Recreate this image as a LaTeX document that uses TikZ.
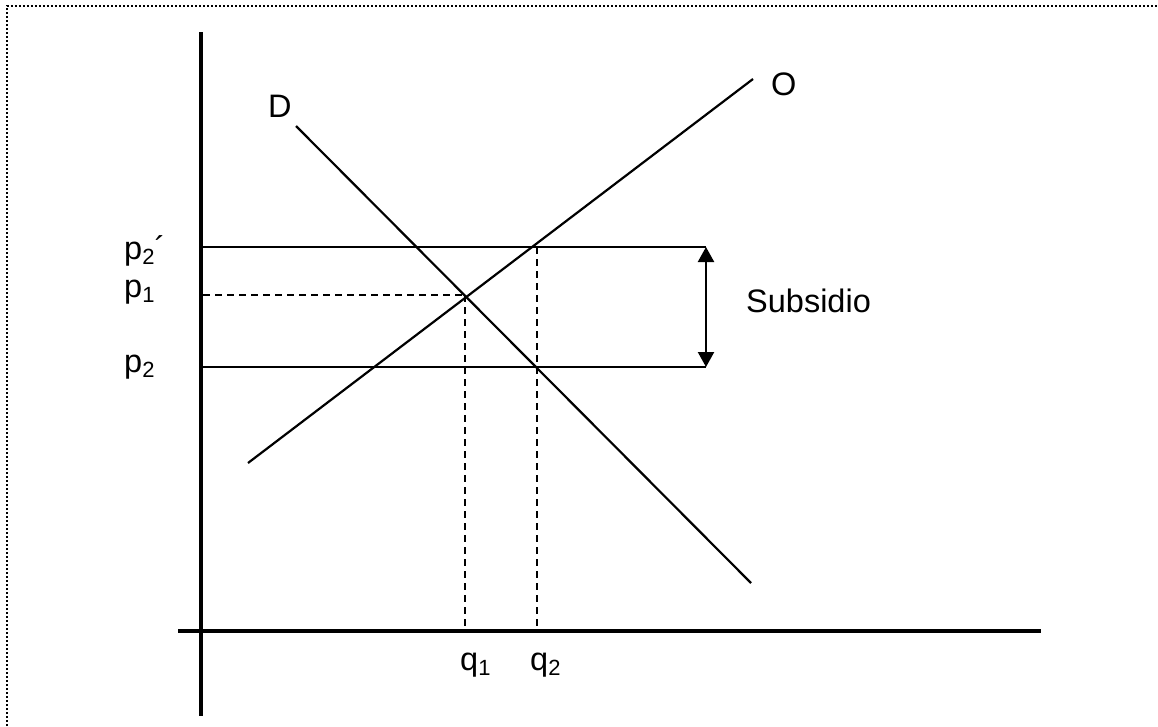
\documentclass[tikz,border=0pt]{standalone}
\usepackage{fontspec}
\setmainfont{Liberation Sans}
\usetikzlibrary{arrows.meta}
\newcommand{\sbs}[1]{\raisebox{-0.18em}{\fontsize{22}{22}\selectfont #1}}
\begin{document}
\begin{tikzpicture}[x=1pt,y=-1pt,
  lbl/.style={inner sep=0pt, anchor=base west, font=\fontsize{32.5}{38}\selectfont},
  axis/.style={line width=4.5pt},
  curve/.style={line width=2.2pt},
  hline/.style={line width=1.7pt},
  dline/.style={line width=1.7pt, dash pattern=on 7pt off 5pt}]
\useasboundingbox (0,0) rectangle (1158,726);
\draw[line width=2pt, dotted] (7,726) -- (7,6) -- (1158,6);
% axes
\coordinate (yt) at (201,32);
\coordinate (yb) at (201,716);
\coordinate (xl) at (178,631);
\coordinate (xr) at (1041,631);
\draw[axis] (yt) -- (yb);
\draw[axis] (xl) -- (xr);
% curves
\coordinate (d1) at (296,126);
\coordinate (d2) at (751,583);
\coordinate (o1) at (248,463);
\coordinate (o2) at (753,79);
\draw[curve] (d1) -- (d2);
\draw[curve] (o1) -- (o2);
% horizontal lines
\coordinate (a1) at (203,247);
\coordinate (a2) at (706,247);
\coordinate (b1) at (203,367);
\coordinate (b2) at (706,367);
\coordinate (e1) at (203,295);
\coordinate (e) at (465,295);
\coordinate (q1b) at (465,631);
\coordinate (q2t) at (537,247);
\coordinate (q2b) at (537,631);
\draw[hline] (a1) -- (a2);
\draw[hline] (b1) -- (b2);
\draw[dline] (e1) -- (e);
\draw[dline] (e) -- (q1b);
\draw[dline] (q2t) -- (q2b);
% arrow
\draw[line width=2.2pt, {Triangle[length=15pt,width=16pt]}-{Triangle[length=15pt,width=16pt]}] (a2) -- (b2);
% labels
\node[lbl] (lp2p) at (124,259) {p\sbs{2}´};
\node[lbl] (lp1) at (124,297) {p\sbs{1}};
\node[lbl] (lp2) at (124,372) {p\sbs{2}};
\node[lbl] (lq1) at (460,670) {q\sbs{1}};
\node[lbl] (lq2) at (530,670) {q\sbs{2}};
\node[lbl] (lD) at (268,117) {D};
\node[lbl] (lO) at (771,95) {O};
\node[lbl] (ls) at (746,312) {Subsidio};
\end{tikzpicture}
\end{document}
